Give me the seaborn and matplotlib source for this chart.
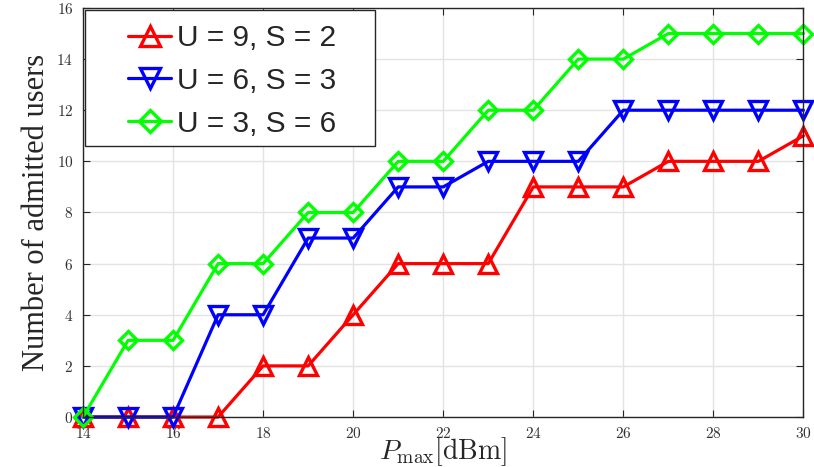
import matplotlib
matplotlib.use("Agg")
import matplotlib.pyplot as plt
from matplotlib.patches import Rectangle
import seaborn as sns
import pandas as pd

p_max = [14, 15, 16, 17, 18, 19, 20, 21, 22, 23, 24, 25, 26, 27, 28, 29, 30]
users_u9_s2 = [0, 0, 0, 0, 2, 2, 4, 6, 6, 6, 9, 9, 9, 10, 10, 10, 11]
users_u6_s3 = [0, 0, 0, 4, 4, 7, 7, 9, 9, 10, 10, 10, 12, 12, 12, 12, 12]
users_u3_s6 = [0, 3, 3, 6, 6, 8, 8, 10, 10, 12, 12, 14, 14, 15, 15, 15, 15]
series_labels = ["U = 9, S = 2", "U = 6, S = 3", "U = 3, S = 6"]
x_ticks = [14, 16, 18, 20, 22, 24, 26, 28, 30]
y_ticks = [0, 2, 4, 6, 8, 10, 12, 14, 16]

df = pd.concat([
    pd.DataFrame({"P": p_max, "users": vals, "config": lab})
    for vals, lab in zip([users_u9_s2, users_u6_s3, users_u3_s6], series_labels)
])

sns.set_style("whitegrid")
plt.rcParams["mathtext.fontset"] = "cm"

fig = plt.figure(figsize=(8.14, 4.67), dpi=100)
ax = fig.add_axes([0.102, 0.107, 0.885, 0.876])

colors = ["#ff0000", "#0000ff", "#00ff00"]
markers = ["^", "v", "D"]
msizes = [13, 13, 9.5]
for lab, c, m, ms in zip(series_labels, colors, markers, msizes):
    sub = df[df["config"] == lab]
    sns.lineplot(data=sub, x="P", y="users", ax=ax, color=c, marker=m,
                 markersize=ms, markerfacecolor="none", markeredgecolor=c,
                 markeredgewidth=2.4, linewidth=2.3, label=lab, clip_on=False)

ax.set_xlim(14, 30)
ax.set_ylim(0, 16)
ax.set_xticks(x_ticks)
ax.set_yticks(y_ticks)
ax.set_xticklabels([f"${v}$" for v in x_ticks])
ax.set_yticklabels([f"${v}$" for v in y_ticks])
ax.grid(True, color="#e3e3e3", linewidth=1)
for s in ax.spines.values():
    s.set_color("#262626")
    s.set_linewidth(1)
ax.tick_params(axis="both", which="both", direction="in", length=5, color="#262626",
               labelsize=11, labelcolor="#333333",
               top=True, right=True, bottom=True, left=True)
ax.tick_params(axis="x", pad=6.5)
ax.tick_params(axis="y", pad=7)

ax.set_xlabel(r"$P_{\max}[\mathrm{dBm}]$", fontsize=20, labelpad=-4)
ax.set_ylabel("Number of admitted users", family="Liberation Serif", fontsize=22, labelpad=4)

# legend frame drawn as a separate box so the padding can be wide
ax.add_patch(Rectangle((0.003, 0.6626), 0.4026, 0.3324, transform=ax.transAxes,
                       facecolor="white", edgecolor="#262626", linewidth=1,
                       zorder=10, clip_on=False))
leg = ax.legend(loc="upper left", bbox_to_anchor=(0.0625, 0.96),
                prop={"family": "Liberation Sans", "size": 21.5},
                frameon=False, borderpad=0, borderaxespad=0,
                labelspacing=0.49, handlelength=1.45, handletextpad=0.18,
                markerscale=1.15)
leg.set_zorder(11)

fig.savefig("out.png", dpi=100)
